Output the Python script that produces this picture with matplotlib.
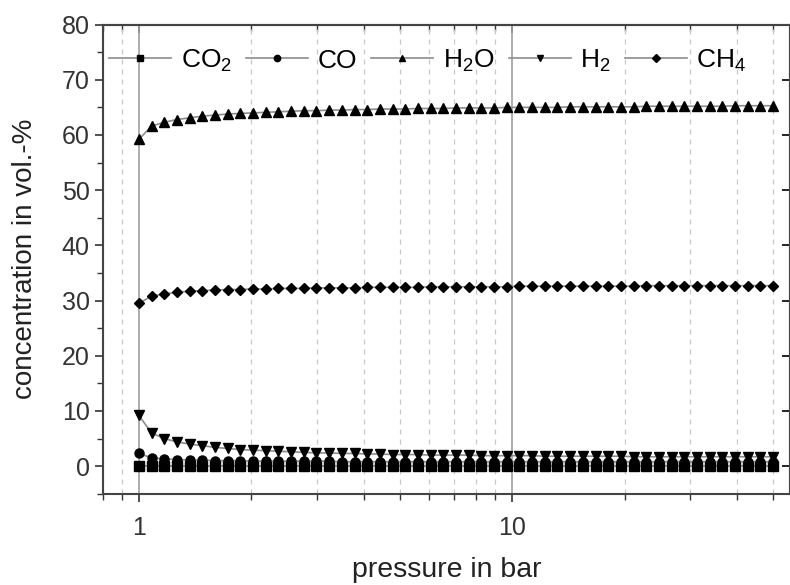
import numpy as np
import matplotlib
matplotlib.use('Agg')
from matplotlib import pyplot as plt
from matplotlib.ticker import LogLocator, NullFormatter, MultipleLocator, FixedLocator

plt.rcParams['font.family'] = ['Liberation Sans', 'DejaVu Sans']
plt.rcParams['mathtext.default'] = 'regular'

# pressure points (bar), evenly spaced on the log axis from 1 to 50
pressure = np.logspace(0, np.log10(50), 51)

co2 = [0.1, 0.1, 0.1, 0.1, 0.1, 0.1, 0.1, 0.1, 0.1, 0.1,
       0.1, 0.1, 0.1, 0.1, 0.1, 0.1, 0.1, 0.1, 0.1, 0.1,
       0.1, 0.1, 0.1, 0.1, 0.1, 0.1, 0.1, 0.1, 0.1, 0.1,
       0.1, 0.1, 0.1, 0.1, 0.1, 0.1, 0.1, 0.1, 0.1, 0.1,
       0.1, 0.1, 0.1, 0.1, 0.1, 0.1, 0.1, 0.1, 0.1, 0.1, 0.1]
co = [2.3, 1.5, 1.3, 1.2, 1.1, 1.1, 1.0, 1.0, 1.0, 0.9,
      0.9, 0.9, 0.9, 0.9, 0.9, 0.9, 0.8, 0.8, 0.8, 0.8,
      0.8, 0.8, 0.8, 0.8, 0.8, 0.8, 0.8, 0.8, 0.8, 0.8,
      0.8, 0.8, 0.8, 0.8, 0.8, 0.8, 0.8, 0.8, 0.8, 0.8,
      0.8, 0.8, 0.8, 0.8, 0.8, 0.8, 0.8, 0.8, 0.8, 0.8, 0.8]
h2o = [59.2, 61.6, 62.3, 62.8, 63.1, 63.4, 63.6, 63.8, 63.9, 64.0,
       64.1, 64.2, 64.3, 64.4, 64.4, 64.5, 64.5, 64.6, 64.6, 64.7,
       64.7, 64.7, 64.8, 64.8, 64.8, 64.9, 64.9, 64.9, 64.9, 65.0,
       65.0, 65.0, 65.0, 65.0, 65.1, 65.1, 65.1, 65.1, 65.1, 65.1,
       65.2, 65.2, 65.2, 65.2, 65.2, 65.2, 65.2, 65.3, 65.3, 65.3, 65.3]
h2 = [9.2, 6.0, 5.0, 4.4, 4.0, 3.7, 3.4, 3.2, 3.0, 2.9,
      2.8, 2.7, 2.6, 2.5, 2.4, 2.4, 2.3, 2.3, 2.2, 2.2,
      2.1, 2.1, 2.1, 2.0, 2.0, 2.0, 2.0, 1.9, 1.9, 1.9,
      1.9, 1.9, 1.8, 1.8, 1.8, 1.8, 1.8, 1.8, 1.8, 1.7,
      1.7, 1.7, 1.7, 1.7, 1.7, 1.7, 1.7, 1.7, 1.7, 1.7, 1.7]
ch4 = [29.5, 30.8, 31.2, 31.5, 31.7, 31.8, 31.9, 32.0, 32.0, 32.1,
       32.1, 32.2, 32.2, 32.2, 32.3, 32.3, 32.3, 32.3, 32.4, 32.4,
       32.4, 32.4, 32.4, 32.5, 32.5, 32.5, 32.5, 32.5, 32.5, 32.5,
       32.6, 32.6, 32.6, 32.6, 32.6, 32.6, 32.6, 32.6, 32.6, 32.6,
       32.7, 32.7, 32.7, 32.7, 32.7, 32.7, 32.7, 32.7, 32.7, 32.7, 32.7]

series = [(co2, 's', r'CO$_2$'),
          (co, 'o', 'CO'),
          (h2o, '^', r'H$_2$O'),
          (h2, 'v', r'H$_2$'),
          (ch4, 'D', r'CH$_4$')]

fig = plt.figure(figsize=(7.9, 5.85), dpi=100)
ax = fig.add_axes([0.130, 0.156, 0.870, 0.802])

for vals, mk, lab in series:
    ms = 6.5 if mk != 'D' else 5.5
    ax.plot(pressure, vals, color='#8c8c8c', lw=1.2, marker=mk, ms=ms,
            mfc='black', mec='black', label=lab)

ax.set_xscale('log')
ax.set_xlim(0.8, 55.5)
ax.set_ylim(-5, 80)

ax.xaxis.set_major_locator(FixedLocator([1, 10]))
ax.xaxis.set_major_formatter(matplotlib.ticker.FuncFormatter(lambda v, p: f'{v:g}'))
ax.xaxis.set_minor_locator(LogLocator(base=10, subs=np.arange(2, 10)))
ax.xaxis.set_minor_formatter(NullFormatter())
ax.yaxis.set_major_locator(MultipleLocator(10))
ax.yaxis.set_minor_locator(MultipleLocator(5))

# vertical grid only
ax.grid(True, which='major', axis='x', color='#a0a0a0', lw=1.2, ls='-')
ax.grid(True, which='minor', axis='x', color='#c8c8c8', lw=0.9, ls=(0, (4, 4)))
ax.set_axisbelow(True)

ax.tick_params(which='both', direction='out', labelsize=18, colors='#333333',
               top=False, right=False)
ax.tick_params(which='major', length=6, width=1.2)
ax.tick_params(which='minor', length=4, width=1.0)
ax.tick_params(axis='x', which='major', pad=10)

top = ax.secondary_xaxis('top')
top.xaxis.set_major_locator(FixedLocator([1, 10]))
top.xaxis.set_minor_locator(LogLocator(base=10, subs=np.arange(2, 10)))
top.tick_params(which='both', direction='in', labeltop=False, colors='#333333')
top.tick_params(which='major', length=6, width=1.2)
top.tick_params(which='minor', length=4, width=1.0)
top.xaxis.set_major_formatter(NullFormatter())
top.xaxis.set_minor_formatter(NullFormatter())

right = ax.secondary_yaxis('right')
right.yaxis.set_major_locator(MultipleLocator(10))
right.tick_params(direction='in', labelright=False, length=6, width=1.2)
right.yaxis.set_major_formatter(NullFormatter())

for sp in list(ax.spines.values()) + [top.spines['top'], right.spines['right']]:
    sp.set_color('#444444')
    sp.set_linewidth(1.5)

ax.set_xlabel('pressure in bar', fontsize=20.5, color='#222222', labelpad=12)
ax.set_ylabel('concentration in vol.-%', fontsize=20, color='#222222', labelpad=17)

ax.legend(loc='upper left', bbox_to_anchor=(0.0, 0.965), ncol=5, frameon=False,
          fontsize=19, handlelength=2.35, handletextpad=0.35, columnspacing=0.55,
          markerscale=0.7, borderaxespad=0.0, borderpad=0.25)

fig.savefig('out.png', dpi=100)
